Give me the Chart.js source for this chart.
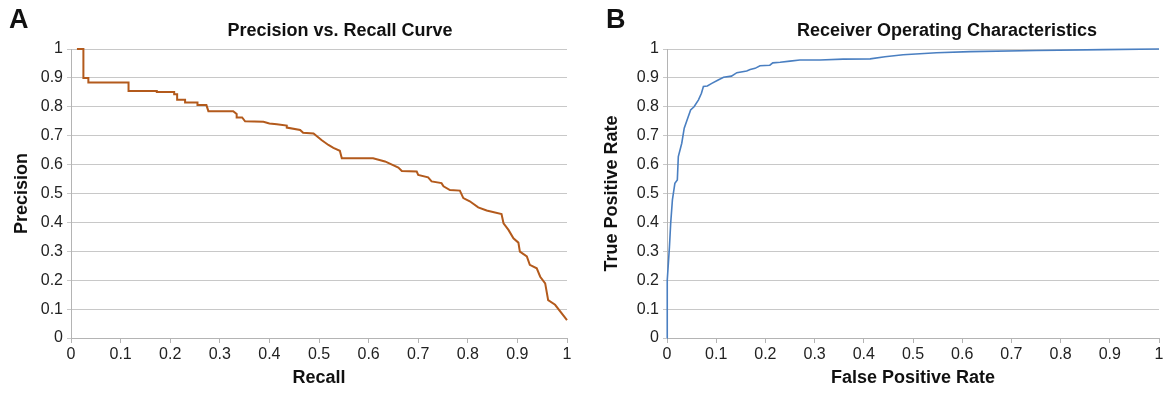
<!DOCTYPE html>
<html>
<head>
<meta charset="utf-8">
<script src="https://cdn.jsdelivr.net/npm/chart.js@4"></script>
<style>
  body { margin: 0; background: #fff; }
  #wrap { position: relative; width: 1176px; height: 395px; }
  canvas { position: absolute; top: 0; }
</style>
</head>
<body>
<div id="wrap">
  <canvas id="pr" width="588" height="395" style="left:0"></canvas>
  <canvas id="roc" width="588" height="395" style="left:588px"></canvas>
</div>
<script>
// precision vs recall
const recall = [0.012,0.025,0.025,0.035,0.035,0.116,0.116,0.173,0.173,0.208,0.208,0.214,0.214,0.23,0.23,0.255,0.255,0.273,0.277,0.327,0.334,0.334,0.345,0.351,0.388,0.40,0.415,0.435,0.435,0.462,0.468,0.489,0.505,0.519,0.529,0.542,0.546,0.609,0.633,0.660,0.667,0.697,0.700,0.720,0.727,0.747,0.751,0.764,0.784,0.791,0.804,0.821,0.838,0.868,0.872,0.882,0.892,0.902,0.905,0.919,0.925,0.939,0.946,0.956,0.962,0.976,1.0];
const precision = [1.0,1.0,0.90,0.90,0.884,0.884,0.855,0.855,0.851,0.851,0.843,0.843,0.824,0.824,0.815,0.815,0.806,0.806,0.785,0.785,0.775,0.763,0.763,0.750,0.748,0.742,0.740,0.735,0.728,0.720,0.710,0.708,0.685,0.668,0.658,0.648,0.622,0.622,0.611,0.590,0.578,0.576,0.564,0.556,0.542,0.536,0.525,0.512,0.510,0.484,0.473,0.452,0.441,0.429,0.397,0.374,0.345,0.330,0.299,0.282,0.253,0.241,0.212,0.189,0.131,0.115,0.062];

// ROC
const fpr = [0,0,0.001,0.005,0.0075,0.011,0.016,0.021,0.023,0.030,0.035,0.041,0.048,0.055,0.064,0.070,0.074,0.082,0.091,0.104,0.115,0.131,0.142,0.162,0.169,0.179,0.189,0.209,0.215,0.230,0.250,0.270,0.311,0.358,0.413,0.443,0.480,0.548,0.616,0.751,0.887,1.0];
const tpr = [0,0.085,0.2,0.316,0.397,0.478,0.535,0.547,0.628,0.674,0.726,0.755,0.789,0.800,0.824,0.847,0.870,0.872,0.881,0.893,0.902,0.906,0.918,0.924,0.929,0.933,0.942,0.944,0.952,0.954,0.958,0.962,0.962,0.965,0.966,0.973,0.980,0.987,0.991,0.995,0.998,1.0];

const ticks01 = [0,0.1,0.2,0.3,0.4,0.5,0.6,0.7,0.8,0.9,1];
const tickLabel = v => String(Math.round(v * 10) / 10);

const FONT = '"Liberation Sans", Arial, sans-serif';

// title + panel letter, placed like the figure
const headPlugin = {
  id: 'head',
  afterDraw(chart, args, opts) {
    const ctx = chart.ctx;
    ctx.save();
    ctx.fillStyle = '#111';
    ctx.textBaseline = 'middle';
    ctx.textAlign = 'left';
    ctx.font = 'bold 27px ' + FONT;
    ctx.fillText(opts.letter, opts.letterX, 21);
    ctx.textAlign = 'center';
    ctx.font = 'bold 18px ' + FONT;
    ctx.fillText(opts.title, opts.titleX, 31);
    ctx.restore();
  }
};

function makeChart(id, xs, ys, color, width, xTitle, yTitle, head, yWidth, padRight, yTitlePad) {
  const ctx = document.getElementById(id).getContext('2d');
  return new Chart(ctx, {
    type: 'line',
    data: {
      datasets: [{
        data: xs.map((x, i) => ({x: x, y: ys[i]})),
        borderColor: color,
        borderWidth: width,
        pointRadius: 0,
        tension: 0,
        fill: false,
        clip: 4
      }]
    },
    options: {
      responsive: false,
      animation: false,
      devicePixelRatio: 1,
      layout: { padding: { top: 49, right: padRight, left: 0, bottom: 0 } },
      plugins: { legend: { display: false }, tooltip: { enabled: false }, head: head },
      scales: {
        x: {
          type: 'linear', min: 0, max: 1,
          afterBuildTicks: s => { s.ticks = ticks01.map(v => ({value: v})); },
          afterFit: s => { s.height = 57; },
          grid: { drawOnChartArea: false, drawTicks: true, tickLength: 5, color: '#b4b4b4' },
          border: { color: '#b4b4b4' },
          ticks: { color: '#222', font: { family: FONT, size: 16 }, padding: 2, maxRotation: 0, autoSkip: false, callback: tickLabel },
          title: { display: true, text: xTitle, color: '#111', font: { family: FONT, size: 18, weight: 'bold' }, padding: { top: 0, bottom: 6 } }
        },
        y: {
          type: 'linear', min: 0, max: 1,
          afterBuildTicks: s => { s.ticks = ticks01.map(v => ({value: v})); },
          afterFit: s => { s.width = yWidth; },
          grid: { color: '#c8c8c8', tickLength: 4 },
          border: { color: '#b4b4b4' },
          ticks: { color: '#222', font: { family: FONT, size: 16 }, padding: 4, autoSkip: false, callback: tickLabel },
          title: { display: true, text: yTitle, color: '#111', font: { family: FONT, size: 18, weight: 'bold' }, padding: { top: yTitlePad, bottom: 0 } }
        }
      }
    },
    plugins: [headPlugin]
  });
}

makeChart('pr', recall, precision, '#b35a1c', 2, 'Recall', 'Precision',
  { letter: 'A', letterX: 9, title: 'Precision vs. Recall Curve', titleX: 340 }, 71, 21, 11);
makeChart('roc', fpr, tpr, '#4a7fc1', 1.6, 'False Positive Rate', 'True Positive Rate',
  { letter: 'B', letterX: 18, title: 'Receiver Operating Characteristics', titleX: 359 }, 79, 17, 13);
</script>
</body>
</html>
